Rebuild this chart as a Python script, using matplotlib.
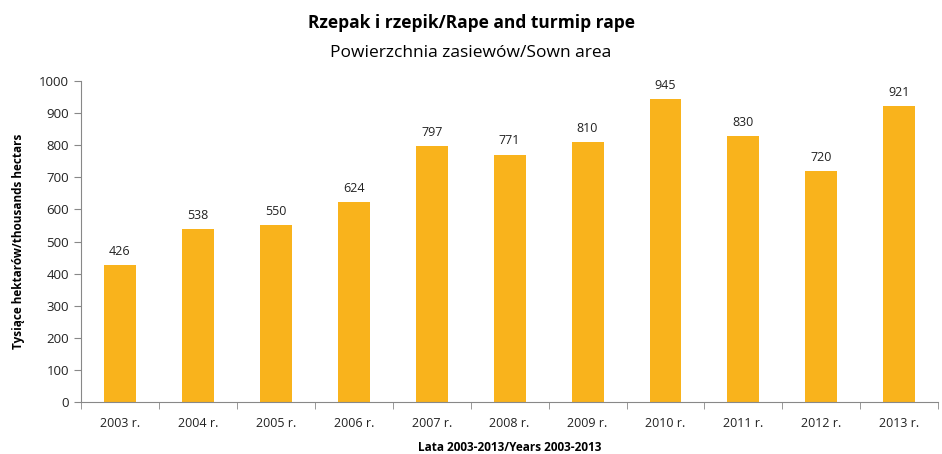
import numpy as np
import matplotlib.pyplot as plt

years = ["2003 r.", "2004 r.", "2005 r.", "2006 r.", "2007 r.", "2008 r.",
         "2009 r.", "2010 r.", "2011 r.", "2012 r.", "2013 r."]
area = [426, 538, 550, 624, 797, 771, 810, 945, 830, 720, 921]

plt.rcParams['font.family'] = ['Open Sans', 'DejaVu Sans']

fig = plt.figure(figsize=(9.42, 4.54), dpi=100)
ax = fig.add_axes([0.086, 0.1145, 0.91, 0.707])

x = np.arange(len(years))
ax.bar(x, area, width=0.41, color="#F9B31C")
for xi, v in zip(x, area):
    ax.text(xi, v + 22, str(v), ha="center", va="bottom", fontsize=9, color="#222222")

ax.set_xlim(-0.5, len(years) - 0.5)
ax.set_ylim(0, 1000)
ax.set_yticks(np.arange(0, 1001, 100))
ax.set_xticks(x)
ax.set_xticklabels(years, fontsize=9, color="#222222")
ax.set_xticks(np.arange(-0.5, len(years), 1), minor=True)
ax.tick_params(axis="x", which="major", length=0, pad=11)
ax.tick_params(axis="x", which="minor", length=5, color="#888888")
ax.tick_params(axis="y", length=5, color="#888888", labelsize=9.5, labelcolor="#222222")

for s in ["top", "right"]:
    ax.spines[s].set_visible(False)
for s in ["left", "bottom"]:
    ax.spines[s].set_color("#888888")

ax.set_ylabel("Tysiące hektarów/thousands hectars", fontsize=8.5, fontweight="bold", labelpad=10)
ax.set_xlabel("Lata 2003-2013/Years 2003-2013", fontsize=8.5, fontweight="bold", labelpad=8)

fig.text(0.5, 0.938, "Rzepak i rzepik/Rape and turmip rape", ha="center", fontsize=12.5, fontweight="bold")
fig.text(0.5, 0.875, "Powierzchnia zasiewów/Sown area", ha="center", fontsize=12.5)

fig.savefig("out.png", dpi=100)
